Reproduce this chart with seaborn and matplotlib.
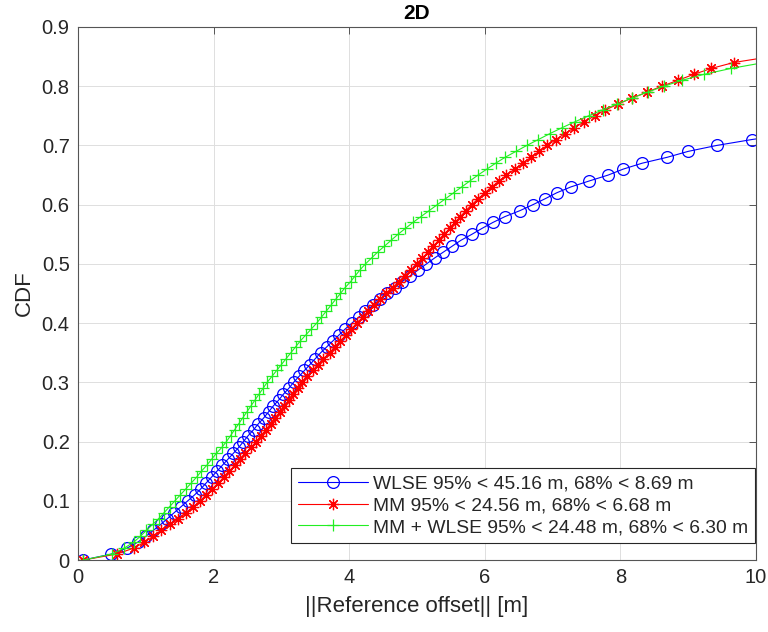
import numpy as np
import pandas as pd
import matplotlib
matplotlib.use("Agg")
import matplotlib.pyplot as plt
import seaborn as sns

# CDF levels (percent) at which each estimator's error quantile is stored
cdf_pct = [0, 1, 2, 3, 4, 5, 6, 7, 8, 9,
           10, 11, 12, 13, 14, 15, 16, 17, 18, 19,
           20, 21, 22, 23, 24, 25, 26, 27, 28, 29,
           30, 31, 32, 33, 34, 35, 36, 37, 38, 39,
           40, 41, 42, 43, 44, 45, 46, 47, 48, 49,
           50, 51, 52, 53, 54, 55, 56, 57, 58, 59,
           60, 61, 62, 63, 64, 65, 66, 67, 68, 69,
           70, 71, 72, 73, 74, 75, 76, 77, 78, 79,
           80, 81, 82, 83, 84, 85]

# 2D offset quantiles [m]
wlse_x = [0.08, 0.49, 0.72, 0.88, 1.00, 1.11, 1.22, 1.32, 1.42, 1.52,
          1.62, 1.72, 1.81, 1.89, 1.97, 2.05, 2.13, 2.21, 2.29, 2.37,
          2.44, 2.51, 2.59, 2.66, 2.74, 2.81, 2.88, 2.96, 3.03, 3.11,
          3.18, 3.26, 3.34, 3.42, 3.50, 3.58, 3.67, 3.76, 3.85, 3.94,
          4.04, 4.14, 4.24, 4.35, 4.45, 4.56, 4.67, 4.78, 4.90, 5.02,
          5.14, 5.26, 5.39, 5.52, 5.65, 5.81, 5.96, 6.12, 6.30, 6.52,
          6.71, 6.89, 7.06, 7.27, 7.54, 7.82, 8.04, 8.32, 8.69, 9.00,
          9.42, 9.94, 10.55]

mm_x = [0.08, 0.57, 0.82, 0.98, 1.11, 1.23, 1.36, 1.48, 1.59, 1.70,
        1.80, 1.89, 1.98, 2.07, 2.15, 2.23, 2.31, 2.39, 2.47, 2.55,
        2.63, 2.70, 2.77, 2.84, 2.91, 2.98, 3.04, 3.11, 3.17, 3.24,
        3.30, 3.38, 3.46, 3.54, 3.62, 3.71, 3.79, 3.87, 3.95, 4.03,
        4.11, 4.20, 4.28, 4.37, 4.46, 4.55, 4.64, 4.73, 4.82, 4.91,
        5.00, 5.08, 5.16, 5.24, 5.32, 5.40, 5.48, 5.56, 5.64, 5.72,
        5.81, 5.90, 6.00, 6.10, 6.21, 6.32, 6.44, 6.56, 6.68, 6.80,
        6.92, 7.05, 7.18, 7.32, 7.47, 7.62, 7.78, 7.97, 8.17, 8.39,
        8.61, 8.85, 9.08, 9.34, 9.67, 10.22]

mm_wlse_x = [0.08, 0.50, 0.68, 0.82, 0.92, 1.01, 1.10, 1.19, 1.27, 1.35,
             1.43, 1.51, 1.59, 1.67, 1.75, 1.82, 1.90, 1.97, 2.04, 2.12,
             2.19, 2.25, 2.31, 2.37, 2.43, 2.49, 2.55, 2.61, 2.67, 2.73,
             2.79, 2.86, 2.93, 3.00, 3.07, 3.14, 3.21, 3.28, 3.36, 3.44,
             3.52, 3.59, 3.66, 3.73, 3.80, 3.87, 3.94, 4.02, 4.09, 4.16,
             4.24, 4.33, 4.42, 4.52, 4.62, 4.72, 4.83, 4.94, 5.06, 5.18,
             5.30, 5.42, 5.54, 5.66, 5.78, 5.90, 6.03, 6.16, 6.30, 6.46,
             6.62, 6.79, 6.96, 7.14, 7.33, 7.53, 7.74, 7.95, 8.17, 8.40,
             8.64, 8.91, 9.23, 9.63, 10.12]

series_names = ["WLSE 95% < 45.16 m, 68% < 8.69 m",
                "MM 95% < 24.56 m, 68% < 6.68 m",
                "MM + WLSE 95% < 24.48 m, 68% < 6.30 m"]

x_ticks = [0, 2, 4, 6, 8, 10]
x_tick_labels = ["0", "2", "4", "6", "8", "10"]
y_ticks = [0, 0.1, 0.2, 0.3, 0.4, 0.5, 0.6, 0.7, 0.8, 0.9]
y_tick_labels = ["0", "0.1", "0.2", "0.3", "0.4", "0.5", "0.6", "0.7", "0.8", "0.9"]

sns.set_theme(style="white")
plt.rcParams["font.family"] = ["Liberation Sans", "DejaVu Sans"]
text_color = "#262626"

fig = plt.figure(figsize=(7.68, 6.32), dpi=100)
ax = fig.add_axes([78 / 768, 1 - 560 / 632, 678 / 768, 533 / 632])

styles = [
    dict(color="#0000ff", marker="o", markersize=8.5, markerfacecolor="none",
         markeredgecolor="#0000ff", markeredgewidth=0.9),
    dict(color="#ff0000", marker=(8, 2, 0), markersize=8.2,
         markeredgecolor="#ff0000", markeredgewidth=0.9),
    dict(color="#22ee22", marker="+", markersize=8.8,
         markeredgecolor="#22ee22", markeredgewidth=0.9),
]

for xs, name, st in zip([wlse_x, mm_x, mm_wlse_x], series_names, styles):
    df = pd.DataFrame({"offset": xs,
                       "cdf": np.array(cdf_pct[:len(xs)]) / 100.0})
    sns.lineplot(data=df, x="offset", y="cdf", ax=ax, sort=False,
                 estimator=None, linewidth=0.8, label=name, **st)

ax.set_xlim(0, 10)
ax.set_ylim(0, 0.9)
ax.set_xticks(x_ticks)
ax.set_xticklabels(x_tick_labels)
ax.set_yticks(y_ticks)
ax.set_yticklabels(y_tick_labels)

ax.grid(True, color="#dedede", linewidth=0.7)
ax.set_axisbelow(True)
for side in ["left", "right", "top", "bottom"]:
    ax.spines[side].set_visible(True)
    ax.spines[side].set_color("#555555")
    ax.spines[side].set_linewidth(0.8)
ax.tick_params(axis="both", which="both", direction="in", length=5, width=0.7,
               color="#555555", labelsize=14.5, labelcolor=text_color,
               top=True, right=True, pad=6)

ax.set_xlabel("||Reference offset|| [m]", fontsize=16, color=text_color, labelpad=6)
ax.set_ylabel("CDF", fontsize=16, color=text_color, labelpad=5)
ax.set_title("2D", fontsize=15, fontweight="bold", color="black", pad=6)

leg = ax.legend(loc="lower right", bbox_to_anchor=(0.999, 0.032), borderaxespad=0,
                fontsize=13.9, frameon=True, fancybox=False, framealpha=1,
                edgecolor="#262626", handlelength=3.6, handletextpad=0.3,
                labelspacing=0.22, borderpad=0.35)
leg.get_frame().set_linewidth(0.8)
for t in leg.get_texts():
    t.set_color(text_color)

fig.savefig("out.png", dpi=100)
